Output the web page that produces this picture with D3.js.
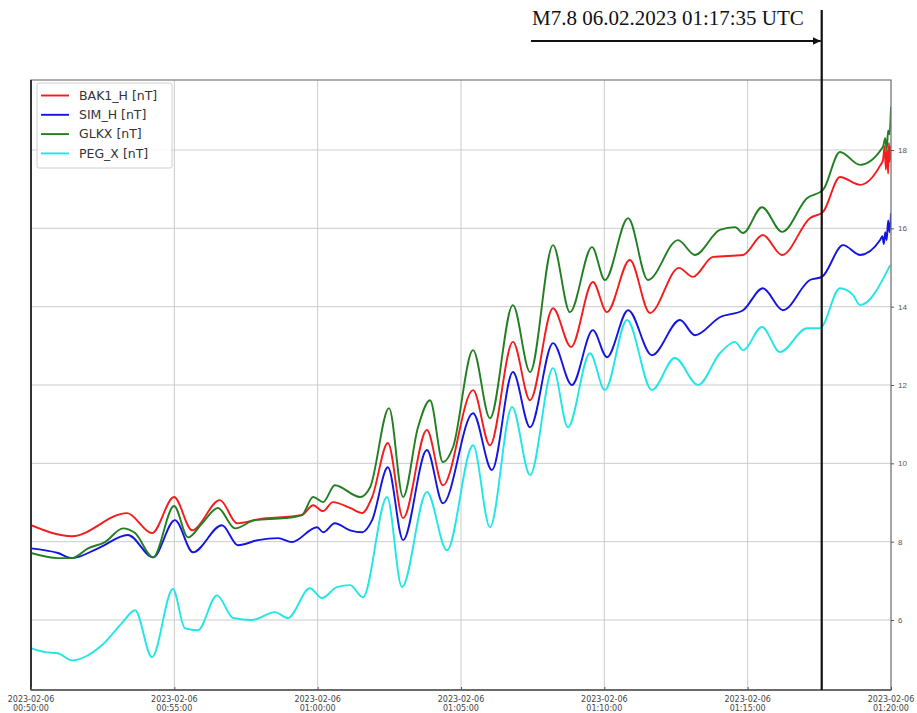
<!DOCTYPE html>
<html>
<head>
<meta charset="utf-8">
<script src="https://cdn.jsdelivr.net/npm/d3@7"></script>
<style>
  body { margin: 0; background: #fff; }
  svg { display: block; }
</style>
</head>
<body>
<svg id="chart"></svg>
<script>
const width = 917;
const height = 713;

// [minutes after 00:50:00 UTC, value in nT]
const bak1H = [
  [0, 8.42], [1.43, 8.14], [3.35, 8.73], [4.22, 8.22], [4.99, 9.14], [5.62, 8.29],
  [6.59, 9.06], [7.19, 8.47], [7.92, 8.57], [9.45, 8.68], [9.84, 8.93], [10.19, 8.78],
  [10.53, 9.01], [11.13, 8.86], [11.55, 8.73], [11.9, 9.14], [12.45, 10.52], [12.98, 8.6],
  [13.81, 10.85], [14.37, 9.44], [15.42, 11.87], [16.01, 10.46], [16.81, 13.1], [17.41, 11.61],
  [18.21, 13.96], [18.84, 12.97], [19.6, 14.63], [20.09, 13.86], [20.89, 15.19], [21.59, 13.84],
  [22.6, 14.99], [23.09, 14.76], [23.79, 15.27], [24.84, 15.32], [25.53, 15.83], [26.2, 15.32],
  [27.17, 16.26], [27.63, 16.42], [28.22, 17.31], [28.92, 17.11], [29.62, 17.6], [29.72, 17.74],
  [29.78, 18.1], [29.82, 17.5], [29.86, 18.0], [29.9, 17.4], [29.93, 18.18], [29.96, 17.7], [30, 18.1]
];
const simH = [
  [0, 7.83], [0.94, 7.71], [1.43, 7.58], [2.34, 7.83], [3.38, 8.17], [4.26, 7.6], [5.02, 8.55],
  [5.65, 7.73], [6.66, 8.42], [7.22, 7.91], [7.92, 8.04], [8.62, 8.09], [9.1, 7.99], [9.98, 8.37],
  [10.19, 8.24], [10.6, 8.47], [11.13, 8.29], [11.55, 8.24], [11.9, 8.55], [12.45, 9.9], [12.98, 8.04],
  [13.81, 10.34], [14.37, 8.98], [15.42, 11.28], [16.08, 9.83], [16.81, 12.33], [17.41, 10.92],
  [18.21, 13.07], [18.87, 12.0], [19.6, 13.4], [20.09, 12.71], [20.83, 13.91], [21.66, 12.76],
  [22.64, 13.66], [23.16, 13.27], [24.03, 13.73], [24.84, 13.91], [25.53, 14.47], [26.23, 13.91],
  [27.17, 14.68], [27.59, 14.76], [28.33, 15.57], [28.92, 15.32], [29.62, 15.7], [29.7, 15.8],
  [29.75, 15.6], [29.8, 15.9], [29.85, 15.7], [29.9, 16.2], [29.95, 15.9], [30, 16.39]
];
const glkx = [
  [0, 7.71], [0.94, 7.58], [1.43, 7.58], [1.99, 7.83], [2.58, 7.99], [3.21, 8.34], [3.63, 8.22],
  [4.26, 7.6], [4.99, 8.91], [5.48, 8.11], [5.97, 8.47], [6.52, 8.86], [7.12, 8.34], [7.81, 8.55],
  [8.86, 8.6], [9.45, 8.68], [9.84, 9.14], [10.19, 9.01], [10.6, 9.44], [11.48, 9.14], [11.83, 9.39],
  [12.49, 11.41], [12.98, 9.14], [13.5, 10.92], [13.92, 11.61], [14.37, 10.03], [14.72, 10.41],
  [15.42, 12.89], [16.01, 11.15], [16.81, 14.04], [17.41, 12.33], [18.21, 15.57], [18.8, 13.86],
  [19.57, 15.52], [20.02, 14.68], [20.83, 16.26], [21.52, 14.68], [22.57, 15.7], [23.16, 15.32],
  [24.03, 15.96], [24.56, 16.03], [24.84, 15.88], [25.5, 16.54], [26.2, 15.91], [27.07, 16.77],
  [27.63, 16.98], [28.22, 17.95], [28.92, 17.62], [29.72, 18.08], [29.8, 18.3], [29.85, 18.0],
  [29.9, 18.5], [29.95, 18.4], [30, 19.1]
];
const pegX = [
  [0, 5.28], [0.49, 5.18], [0.94, 5.15], [1.43, 4.97], [1.99, 5.1], [2.48, 5.36], [3.17, 5.92],
  [3.63, 6.25], [4.22, 5.05], [4.95, 6.79], [5.37, 5.79], [5.82, 5.74], [6.49, 6.63], [7.05, 6.05],
  [7.71, 6.0], [8.51, 6.2], [8.96, 6.05], [9.73, 6.81], [10.15, 6.56], [10.67, 6.84], [11.13, 6.89],
  [11.58, 6.58], [12.42, 9.14], [12.94, 6.84], [13.81, 9.27], [14.51, 7.78], [15.42, 10.46],
  [16.01, 8.37], [16.78, 11.44], [17.41, 9.7], [18.21, 12.43], [18.73, 10.92], [19.5, 12.81],
  [20.02, 11.87], [20.79, 13.66], [21.66, 11.87], [22.46, 12.69], [23.27, 12.0], [24.03, 12.81],
  [24.56, 13.1], [24.84, 12.89], [25.5, 13.48], [26.13, 12.84], [27.07, 13.45], [27.52, 13.45],
  [28.22, 14.47], [28.67, 14.3], [28.92, 14.04], [29.97, 15.06]
];

const seriesNames = ["BAK1_H [nT]", "SIM_H [nT]", "GLKX [nT]", "PEG_X [nT]"];
const seriesColors = ["#f41c1c", "#1414e0", "#217f21", "#22e6e6"];
const yTicks = [6, 8, 10, 12, 14, 16, 18];
const xTickMinutes = [0, 5, 10, 15, 20, 25, 30];
const quakeMinute = 27 + 35 / 60; // 01:17:35
const quakeLabel = "M7.8 06.02.2023 01:17:35 UTC";

const start = Date.UTC(2023, 1, 6, 0, 50, 0);
const toDate = m => new Date(start + m * 60000);

// plot frame in pixels
const plotLeft = 31;
const plotRight = 891;
const plotTop = 80;
const plotBottom = 690;

const svg = d3.select("#chart")
  .attr("width", width)
  .attr("height", height)
  .style("font-family", "'DejaVu Sans', sans-serif");

const x = d3.scaleUtc()
  .domain([toDate(0), toDate(30)])
  .range([plotLeft, plotRight]);

const y = d3.scaleLinear()
  .domain([4.213, 19.787])
  .range([plotBottom, plotTop]);

svg.append("clipPath").attr("id", "plot-clip")
  .append("rect")
  .attr("x", plotLeft).attr("y", plotTop)
  .attr("width", plotRight - plotLeft).attr("height", plotBottom - plotTop);

// grid
const grid = svg.append("g").attr("class", "grid");
grid.selectAll("line.vx")
  .data(xTickMinutes)
  .enter().append("line")
  .attr("x1", d => x(toDate(d))).attr("x2", d => x(toDate(d)))
  .attr("y1", plotTop).attr("y2", plotBottom)
  .attr("stroke", "#cbcbcb").attr("stroke-width", 1);
grid.selectAll("line.hy")
  .data(yTicks)
  .enter().append("line")
  .attr("x1", plotLeft).attr("x2", plotRight)
  .attr("y1", d => y(d)).attr("y2", d => y(d))
  .attr("stroke", "#cbcbcb").attr("stroke-width", 1);

// lines
const line = d3.line()
  .x(d => x(toDate(d[0])))
  .y(d => y(d[1]))
  .curve(d3.curveMonotoneX);

const allSeries = [bak1H, simH, glkx, pegX];
svg.append("g")
  .attr("clip-path", "url(#plot-clip)")
  .selectAll("path")
  .data(allSeries)
  .enter().append("path")
  .attr("d", line)
  .attr("fill", "none")
  .attr("stroke", (d, i) => seriesColors[i])
  .attr("stroke-width", 1.9)
  .attr("stroke-linejoin", "round");

// frame
svg.append("rect")
  .attr("x", plotLeft).attr("y", plotTop)
  .attr("width", plotRight - plotLeft).attr("height", plotBottom - plotTop)
  .attr("fill", "none").attr("stroke", "#7a7a7a").attr("stroke-width", 1.2);
svg.append("line")
  .attr("x1", plotLeft).attr("x2", plotLeft)
  .attr("y1", plotTop).attr("y2", plotBottom)
  .attr("stroke", "#333").attr("stroke-width", 2);
svg.append("line")
  .attr("x1", plotLeft).attr("x2", plotRight)
  .attr("y1", plotBottom).attr("y2", plotBottom)
  .attr("stroke", "#555").attr("stroke-width", 1.5);

// right y axis
const yAxis = d3.axisRight(y).tickValues(yTicks).tickSize(3).tickPadding(4);
const yAxisG = svg.append("g")
  .attr("transform", `translate(${plotRight}, 0)`)
  .call(yAxis);
yAxisG.select(".domain").remove();
yAxisG.selectAll("line").attr("stroke", "#555");
yAxisG.selectAll("text").attr("fill", "#555").style("font-size", "8px");

// bottom x axis, two-line labels
const xAxis = d3.axisBottom(x)
  .tickValues(xTickMinutes.map(toDate))
  .tickSize(-3)
  .tickFormat("");
const xAxisG = svg.append("g")
  .attr("transform", `translate(0, ${plotBottom})`)
  .call(xAxis);
xAxisG.select(".domain").remove();
xAxisG.selectAll("line").attr("stroke", "#555");

const dateFmt = d3.utcFormat("%Y-%m-%d");
const timeFmt = d3.utcFormat("%H:%M:%S");
const xLabels = svg.append("g")
  .selectAll("text")
  .data(xTickMinutes.map(toDate))
  .enter().append("text")
  .attr("x", d => x(d))
  .attr("y", plotBottom + 12)
  .attr("text-anchor", "middle")
  .attr("fill", "#444")
  .style("font-size", "8px");
xLabels.append("tspan").attr("x", d => x(d)).text(d => dateFmt(d));
xLabels.append("tspan").attr("x", d => x(d)).attr("dy", 9).text(d => timeFmt(d));

// legend
const legend = svg.append("g").attr("class", "legend");
legend.append("rect")
  .attr("x", 37).attr("y", 83)
  .attr("width", 135).attr("height", 85)
  .attr("rx", 2)
  .attr("fill", "#fff").attr("fill-opacity", 0.85)
  .attr("stroke", "#d0d0d0");
const entries = legend.selectAll("g.entry")
  .data(seriesNames)
  .enter().append("g")
  .attr("transform", (d, i) => `translate(0, ${95.5 + i * 19.3})`);
entries.append("line")
  .attr("x1", 41).attr("x2", 69)
  .attr("stroke", (d, i) => seriesColors[i])
  .attr("stroke-width", 1.9);
entries.append("text")
  .attr("x", 79).attr("y", 0)
  .attr("dy", "0.35em")
  .attr("fill", "#333")
  .style("font-size", "12.5px")
  .text(d => d);

// earthquake marker
const qx = x(toDate(quakeMinute));
svg.append("defs").append("marker")
  .attr("id", "arrow-head")
  .attr("viewBox", "0 0 10 10")
  .attr("refX", 10).attr("refY", 5)
  .attr("markerWidth", 8).attr("markerHeight", 8)
  .attr("markerUnits", "userSpaceOnUse")
  .attr("orient", "auto")
  .append("path")
  .attr("d", "M0,0 L10,5 L0,10 Z")
  .attr("fill", "#111");

svg.append("line")
  .attr("x1", qx).attr("x2", qx)
  .attr("y1", 10).attr("y2", plotBottom)
  .attr("stroke", "#111").attr("stroke-width", 2.2);

svg.append("line")
  .attr("x1", 531).attr("x2", qx - 1)
  .attr("y1", 41).attr("y2", 41)
  .attr("stroke", "#111").attr("stroke-width", 1.8)
  .attr("marker-end", "url(#arrow-head)");

svg.append("text")
  .attr("x", 532).attr("y", 25)
  .attr("fill", "#111")
  .style("font-family", "'Liberation Serif', 'Times New Roman', serif")
  .style("font-size", "21px")
  .text(quakeLabel);
</script>
</body>
</html>
